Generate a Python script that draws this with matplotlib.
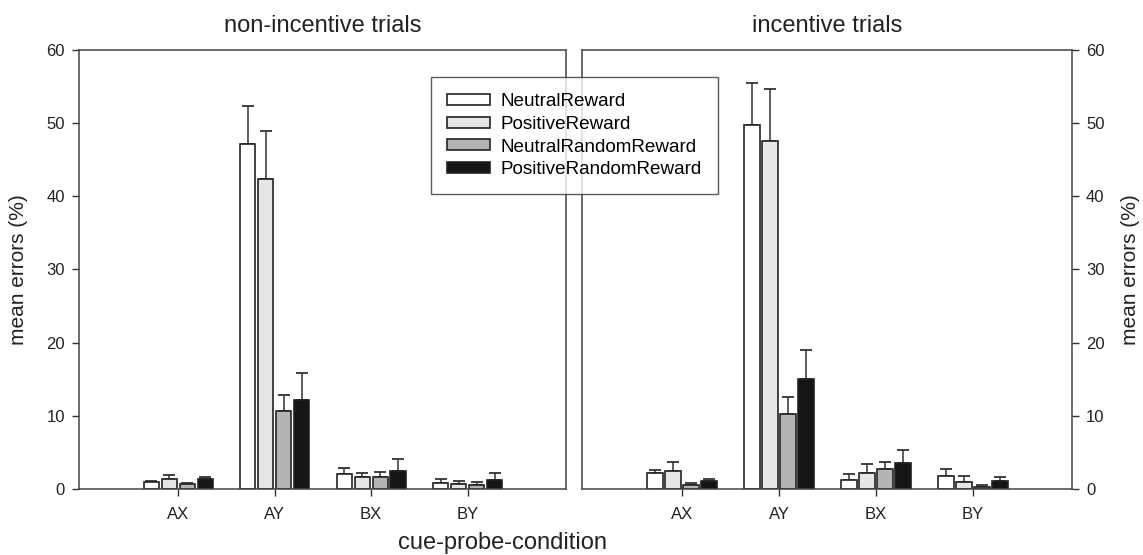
import matplotlib
matplotlib.use("Agg")
import matplotlib.pyplot as plt
import numpy as np
from matplotlib.patches import Patch

plt.rcParams['font.family'] = ['Liberation Sans', 'DejaVu Sans']

conditions = ['AX', 'AY', 'BX', 'BY']
groups = ['NeutralReward', 'PositiveReward', 'NeutralRandomReward', 'PositiveRandomReward']
colors = ['#ffffff', '#e6e6e6', '#b4b4b4', '#151515']

# non-incentive trials: means and upper error (SEM)
non_means = {
    'NeutralReward': [0.92, 47.1, 2.1, 0.87],
    'PositiveReward': [1.33, 42.3, 1.6, 0.64],
    'NeutralRandomReward': [0.69, 10.7, 1.65, 0.5],
    'PositiveRandomReward': [1.42, 12.2, 2.48, 1.24],
}
non_err = {
    'NeutralReward': [0.23, 5.2, 0.8, 0.45],
    'PositiveReward': [0.55, 6.6, 0.64, 0.46],
    'NeutralRandomReward': [0.14, 2.2, 0.65, 0.4],
    'PositiveRandomReward': [0.18, 3.6, 1.62, 0.91],
}

# incentive trials
inc_means = {
    'NeutralReward': [2.17, 49.8, 1.17, 1.76],
    'PositiveReward': [2.5, 47.6, 2.13, 0.9],
    'NeutralRandomReward': [0.58, 10.3, 2.68, 0.25],
    'PositiveRandomReward': [1.03, 15.0, 3.55, 1.07],
}
inc_err = {
    'NeutralReward': [0.47, 5.7, 0.92, 0.92],
    'PositiveReward': [1.19, 7.1, 1.28, 0.86],
    'NeutralRandomReward': [0.22, 2.3, 1.01, 0.23],
    'PositiveRandomReward': [0.27, 4.05, 1.75, 0.55],
}

edge = '#222222'
x = np.arange(1, len(conditions) + 1)
step = 0.186
width = 0.158


def draw_panel(ax, means, errs, title):
    for i, g in enumerate(groups):
        pos = x + (i - 1.5) * step
        m = np.array(means[g])
        e = np.array(errs[g])
        ax.bar(pos, m, width, color=colors[i], edgecolor=edge, linewidth=1.2, zorder=2)
        ax.errorbar(pos, m, yerr=[np.zeros_like(e), e], fmt='none', ecolor='#333333',
                    elinewidth=1.1, capsize=4.5, capthick=1.3, zorder=1)
    ax.set_xlim(-0.03, 5.02)
    ax.set_ylim(0, 60)
    ax.set_xticks(x)
    ax.set_xticklabels(conditions)
    ax.set_yticks(np.arange(0, 61, 10))
    ax.tick_params(axis='both', direction='out', length=5, width=1, colors='#333333',
                   labelcolor='#222222', labelsize=12)
    ax.tick_params(axis='x', pad=8)
    ax.tick_params(axis='y', pad=5)
    for s in ax.spines.values():
        s.set_color('#444444')
        s.set_linewidth(1.1)
    ax.set_title(title, fontsize=17, pad=13, color='#222222')
    ax.set_ylabel('mean errors (%)', fontsize=15, color='#222222')


fig = plt.figure(figsize=(11.43, 5.55), dpi=100)
ax1 = fig.add_axes([0.0691, 0.1189, 0.4261, 0.7911])
ax2 = fig.add_axes([0.5092, 0.1189, 0.4287, 0.7911])

draw_panel(ax1, non_means, non_err, 'non-incentive trials')
draw_panel(ax2, inc_means, inc_err, 'incentive trials')
ax2.yaxis.tick_right()
ax2.yaxis.set_label_position('right')
ax1.yaxis.labelpad = 13
ax2.yaxis.labelpad = 12

fig.text(0.4395, 0.0216, 'cue-probe-condition', ha='center', va='center', fontsize=17, color='#222222')

handles = [Patch(facecolor=c, edgecolor=edge, linewidth=1.2) for c in colors]
leg = fig.legend(handles, groups, loc='upper left', bbox_to_anchor=(0.377, 0.861),
                 fontsize=13.6, frameon=True, fancybox=False, edgecolor='#333333',
                 handlelength=2.3, handleheight=0.5, labelspacing=0.3, borderpad=0.85,
                 handletextpad=0.55, borderaxespad=0)
leg.get_frame().set_linewidth(1.0)
leg.set_zorder(10)

fig.savefig('out.png', dpi=100)
